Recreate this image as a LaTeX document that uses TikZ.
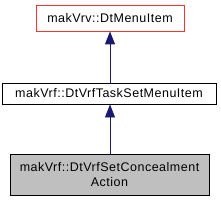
\documentclass[tikz,border=0pt]{standalone}
\usepackage{fontspec}
\setmainfont[LetterSpace=4]{Liberation Sans}
\usetikzlibrary{arrows.meta,positioning}
\definecolor{edgeblue}{HTML}{191970}
\definecolor{classgray}{HTML}{BFBFBF}
\definecolor{linkred}{HTML}{FF3030}
\tikzset{
  classbox/.style={
    shape = rectangle,
    draw = black,
    fill = white,
    font = \fontsize{12.5}{15}\selectfont,
    align = center,
    inner sep = 0pt,
    line width = 0.9pt
  },
}
\tikzset{
  inherit/.style={
    draw = edgeblue,
    line width = 0.9pt,
    -{Triangle[length=13pt,width=10pt]}
  },
}
\begin{document}
\begin{tikzpicture}[x=1pt,y=-1pt]
    \useasboundingbox (0,0) rectangle (221,203);
    \node[classbox, draw = linkred, minimum width=148pt, minimum height=26pt] (menu) at (110,18) {makVrv::DtMenuItem};
    \node[classbox, minimum width=214pt, minimum height=21pt] (taskset) at (109,93.5) {makVrf::DtVrfTaskSetMenuItem};
    \node[classbox, fill = classgray, minimum width=199pt, minimum height=41pt] (conceal) at (109.5,174.5) {makVrf::DtVrfSetConcealment\\Action};

    \draw[inherit] (taskset.north -| menu.south) -- (menu.south);
    \draw[inherit] (conceal.north -| menu.south) -- (taskset.south -| menu.south);
\end{tikzpicture}
\end{document}
